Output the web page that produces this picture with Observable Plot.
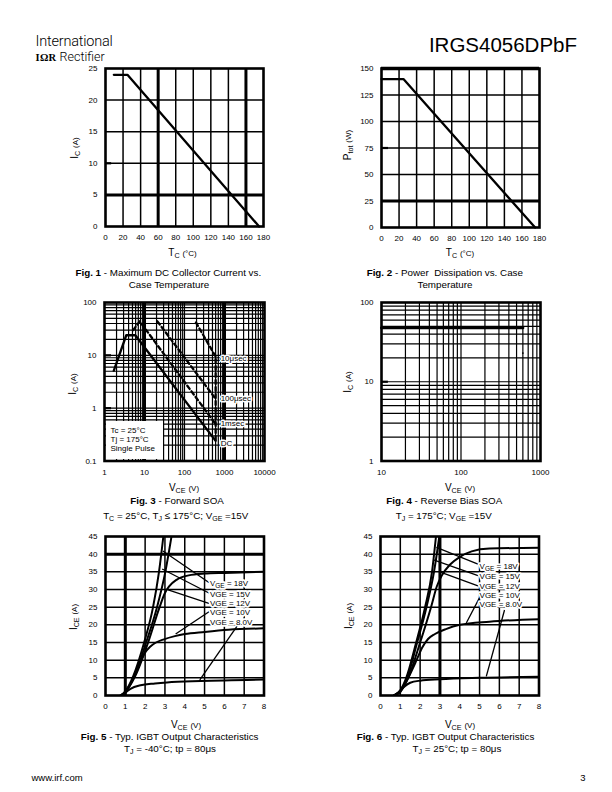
<!DOCTYPE html>
<html><head><meta charset="utf-8">
<script src="https://cdn.jsdelivr.net/npm/d3@7"></script>
<script src="https://cdn.jsdelivr.net/npm/@observablehq/plot@0.6"></script>
<style>
html,body{margin:0;padding:0;background:#fff;}
#page{position:relative;width:612px;height:792px;overflow:hidden;font-family:"Liberation Sans",Arial,Helvetica,sans-serif;color:#000;}
.abs{position:absolute;white-space:nowrap;line-height:1;}
.c{transform:translate(-50%,-50%);}
.l{transform:translateY(-50%);}
.r{transform:translate(-50%,-50%) rotate(-90deg);}
.cap{font-size:9.8px;}
.ax{font-size:10px;}
.u{font-size:8px;}
sub{font-size:72%;vertical-align:-0.3em;line-height:0;}
</style></head><body><div id="page"></div>
<script>
// ---------------- Fig. 1 : Maximum DC collector current vs case temperature
const fig1XTicks = [0,20,40,60,80,100,120,140,160,180];
const fig1YTicks = [0,5,10,15,20,25];
const fig1Tc = [9.5, 25, 175];
const fig1Ic = [24, 24, 0];
const fig1HeavyX = [60, 160];
const fig1HeavyY = [5];
const fig1Stub = {y: 10, x1: 1, x2: 7};

// ---------------- Fig. 2 : Power dissipation vs case temperature
const fig2XTicks = [0,20,40,60,80,100,120,140,160,180];
const fig2YTicks = [0,25,50,75,100,125,150];
const fig2Tc = [0, 25, 175];
const fig2Ptot = [140, 140, 0];
const fig2HeavyY = [25];
const fig2Stub = {y: 75, x1: 1, x2: 8};

// ---------------- Fig. 3 : Forward SOA (log-log)
const fig3XTicks = [1,10,100,1000,10000];
const fig3YTicks = [0.1,1,10,100];
const fig3DC_V = [1.7, 3.5, 5.9, 600];
const fig3DC_I = [5.1, 24, 24, 0.24];
const fig3_1ms_V = [5.2, 7.6, 600];
const fig3_1ms_I = [30, 44, 0.5];
const fig3_100us_V = [21, 600];
const fig3_100us_I = [44, 1.5];
const fig3_10us_V = [193, 600, 600];
const fig3_10us_I = [42, 9.5, 0.24];
const fig3Labels = ["10μsec","100μsec","1msec","DC"];
const fig3LabelV = [600, 600, 600, 600];
const fig3LabelI = [8.9, 1.55, 0.51, 0.215];
const fig3HeavyX = [10, 1000];
const fig3Stubs = [{y: 10, x1: 1.05, x2: 1.5}, {y: 1, x1: 1.05, x2: 1.5}];

// ---------------- Fig. 4 : Reverse bias SOA (log-log)
const fig4XTicks = [10,100,1000];
const fig4YTicks = [1,10,100];
const fig4V = [10, 600];
const fig4I = [48, 48];
const fig4Dot = [[600, 23]];
const fig4Stub = {y: 10, x1: 10.3, x2: 12.2};

// ---------------- Fig. 5 : Output characteristics, Tj = -40 °C
const fig5XTicks = [0,1,2,3,4,5,6,7,8];
const fig5YTicks = [0,5,10,15,20,25,30,35,40,45];
const fig5_18V = [[0.78,0],[1,1.2],[1.4,5.5],[1.95,15],[2.4,25],[2.7,35],[2.92,45]];
const fig5_15V = [[0.78,0],[1,1.1],[1.45,5.5],[2.05,15],[2.6,25],[3.02,35],[3.33,45]];
const fig5_12V = [[0.78,0],[1,1],[1.5,5.5],[2.15,15],[2.7,24.5],[3.0,29],[3.2,30.8],[3.6,32.8],[4.2,34],[5,34.5],[6,34.7],[8,35]];
const fig5_10V = [[0.78,0],[1,0.9],[1.5,6],[1.94,11.7],[2.25,13.8],[2.55,15],[2.95,15.9],[3.5,16.8],[4,17.4],[5,18.0],[6.2,18.6],[8,19.0]];
const fig5_8V = [[0.75,0],[1,0.8],[1.26,1.9],[1.77,2.9],[2.5,3.4],[3.1,3.7],[4.8,4.1],[8,4.5]];
const fig5Labels = ["VGE = 18V","VGE = 15V","VGE = 12V","VGE = 10V","VGE = 8.0V"];
const fig5LabelV = [5.27, 5.27, 5.27, 5.27, 5.27];
const fig5LabelI = [31.8, 28.7, 26.1, 23.5, 20.8];
const fig5PtrFrom = [[2.9,40.9],[2.86,35.8],[3.16,29.9],[3.54,17.4],[4.76,4.4]];
const fig5PtrTo = [[5.22,32],[5.22,29],[5.22,26.1],[5.3,24],[6.65,19.7]];
const fig5HeavyX = [1];
const fig5HeavyY = [40];

// ---------------- Fig. 6 : Output characteristics, Tj = 25 °C
const fig6XTicks = [0,1,2,3,4,5,6,7,8];
const fig6YTicks = [0,5,10,15,20,25,30,35,40,45];
const fig6_18V = [[0.68,0],[1,1.5],[1.3,5],[1.8,15],[2.25,25],[2.6,35],[2.8,45]];
const fig6_15V = [[0.68,0],[1,1.4],[1.35,5],[1.85,15],[2.32,25],[2.7,35],[2.97,45]];
const fig6_12V = [[0.68,0],[1,1.2],[1.4,5],[2.0,15],[2.55,25],[2.85,31],[3.1,34],[3.5,37],[4,39.2],[4.6,40.8],[5.5,41.6],[8,41.8]];
const fig6_10V = [[0.68,0],[1,1],[1.4,5],[1.82,10],[2.1,13.5],[2.4,16],[2.75,17.4],[3.3,18.8],[4,20],[5.5,20.9],[8,21.6]];
const fig6_8V = [[0.68,0],[0.9,0.8],[1.2,2.5],[1.5,3.6],[2,4.2],[3,4.6],[5,5.0],[8,5.3]];
const fig6Labels = ["VGE = 18V","VGE = 15V","VGE = 12V","VGE = 10V","VGE = 8.0V"];
const fig6LabelV = [5.0, 5.0, 5.0, 5.0, 5.0];
const fig6LabelI = [36.5, 33.7, 31.0, 28.4, 25.8];
const fig6PtrFrom = [[2.82,41.9],[2.68,38.4],[2.99,35],[4.33,20.5],[5.34,5.4]];
const fig6PtrTo = [[4.92,37.2],[4.92,33.9],[4.92,31],[5.0,27.7],[6.26,24.2]];
const fig6HeavyX = [3];

// ================= helpers =================
const ML = 30, MR = 10, MT = 10, MB = 20;
const FONT = "'Liberation Sans', Arial, Helvetica, sans-serif";
const page = document.getElementById("page");
const fmt = d => String(d);
const decadeSteps = [1,2,3,4,5,6,7,8,9];

function logGrid(ticks) {
  const out = [];
  for (let k = 0; k < ticks.length - 1; k++) decadeSteps.forEach(m => out.push(ticks[k] * m));
  return out.slice(1);
}
function rowsXY(xs, ys, s) { return xs.map((x, k) => ({x, y: ys[k], s})); }
function rowsPairs(pairs, s) { return pairs.map(p => ({x: p[0], y: p[1], s})); }
function axes(xt, yt) {
  return [
    Plot.axisX(xt, {tickSize: 0, tickPadding: 8, tickFormat: fmt, label: null}),
    Plot.axisY(yt, {tickSize: 0, tickPadding: 8, tickFormat: fmt, label: null})
  ];
}
function mkPlot(o) {
  return Plot.plot({
    width: o.w + ML + MR, height: o.h + MT + MB,
    marginLeft: ML, marginRight: MR, marginTop: MT, marginBottom: MB,
    x: o.x, y: o.y,
    style: {fontFamily: FONT, fontSize: "8px", color: "black", background: "transparent", overflow: "visible"},
    marks: o.marks
  });
}
function mount(svg, fl, ft) {
  const d = document.createElement("div");
  d.className = "abs";
  d.style.left = (fl - ML) + "px";
  d.style.top = (ft - MT) + "px";
  d.appendChild(svg);
  page.appendChild(d);
  return svg;
}
function put(html, x, y, cls, extra) {
  const d = document.createElement("div");
  d.className = "abs " + cls;
  d.style.left = x + "px";
  d.style.top = y + "px";
  d.innerHTML = html;
  if (extra) Object.assign(d.style, extra);
  page.appendChild(d);
  return d;
}
function subscriptLabel(svg, full, base, sub, rest) {
  const NS = "http://www.w3.org/2000/svg";
  svg.querySelectorAll("text").forEach(t => {
    if (t.textContent === full) {
      t.textContent = "";
      const a = document.createElementNS(NS, "tspan"); a.textContent = base;
      const b = document.createElementNS(NS, "tspan"); b.textContent = sub; b.setAttribute("dy", "2"); b.setAttribute("font-size", "6.5");
      const c = document.createElementNS(NS, "tspan"); c.textContent = rest; c.setAttribute("dy", "-2");
      t.append(a, b, c);
    }
  });
}
function stub(s) { return Plot.ruleY([s], {y: "y", x1: "x1", x2: "x2", strokeWidth: 2.2}); }

// ================= Fig 1 =================
mount(mkPlot({
  w: 158, h: 158,
  x: {domain: [0, 180]}, y: {domain: [0, 25]},
  marks: [
    Plot.ruleX(fig1XTicks.slice(1, -1), {strokeWidth: 1.5}),
    Plot.ruleY(fig1YTicks.slice(1, -1), {strokeWidth: 1.5}),
    Plot.ruleX(fig1HeavyX, {strokeWidth: 3}),
    Plot.ruleY(fig1HeavyY, {strokeWidth: 3}),
    stub(fig1Stub),
    Plot.line(rowsXY(fig1Tc, fig1Ic, "Ic"), {x: "x", y: "y", strokeWidth: 2.3}),
    Plot.frame({strokeWidth: 2.6}),
    ...axes(fig1XTicks, fig1YTicks)
  ]
}), 105, 68);

// ================= Fig 2 =================
mount(mkPlot({
  w: 158, h: 159,
  x: {domain: [0, 180]}, y: {domain: [0, 150]},
  marks: [
    Plot.ruleX(fig2XTicks.slice(1, -1), {strokeWidth: 1.5}),
    Plot.ruleY(fig2YTicks.slice(1, -1), {strokeWidth: 1.5}),
    Plot.ruleY(fig2HeavyY, {strokeWidth: 3}),
    stub(fig2Stub),
    Plot.line(rowsXY(fig2Tc, fig2Ptot, "P"), {x: "x", y: "y", strokeWidth: 2.3}),
    Plot.frame({strokeWidth: 2.6}),
    Plot.ruleY([150], {strokeWidth: 3.5}),
    ...axes(fig2XTicks, fig2YTicks)
  ]
}), 381, 68);

// ================= Fig 3 =================
const fig3Solid = rowsXY(fig3DC_V, fig3DC_I, "DC");
const fig3Dashed = [
  ...rowsXY(fig3_1ms_V, fig3_1ms_I, "1msec"),
  ...rowsXY(fig3_100us_V, fig3_100us_I, "100μsec"),
  ...rowsXY(fig3_10us_V, fig3_10us_I, "10μsec")
];
const fig3Lab = fig3Labels.map((t, k) => ({t, x: fig3LabelV[k], y: fig3LabelI[k]}));
mount(mkPlot({
  w: 160, h: 158.5,
  x: {type: "log", domain: [1, 10000]}, y: {type: "log", domain: [0.1, 100]},
  marks: [
    Plot.ruleX(logGrid(fig3XTicks), {strokeWidth: 1.2}),
    Plot.ruleY(logGrid(fig3YTicks), {strokeWidth: 1.2}),
    Plot.ruleX(fig3HeavyX, {strokeWidth: 3}),
    ...fig3Stubs.map(stub),
    Plot.line(fig3Solid, {x: "x", y: "y", strokeWidth: 2.3}),
    Plot.line(fig3Dashed, {x: "x", y: "y", z: "s", strokeWidth: 2.3, strokeDasharray: "4,3"}),
    Plot.text(fig3Lab, {x: "x", y: "y", text: "t", dx: 5, textAnchor: "start", fontSize: 8, fill: "black", stroke: "white", strokeWidth: 3, paintOrder: "stroke"}),
    Plot.frame({strokeWidth: 2.6}),
    ...axes(fig3XTicks, fig3YTicks)
  ]
}), 104, 301.5);
put('Tc = 25°C<br>Tj = 175°C<br>Single Pulse', 105.5, 421, "", {
  width: "52px", height: "33px", background: "#fff", fontSize: "8px", lineHeight: "9px",
  padding: "5px 0 0 5px"
});

// ================= Fig 4 =================
mount(mkPlot({
  w: 159, h: 158.5,
  x: {type: "log", domain: [10, 1000]}, y: {type: "log", domain: [1, 100]},
  marks: [
    Plot.ruleX(logGrid(fig4XTicks), {strokeWidth: 1.2}),
    Plot.ruleY(logGrid(fig4YTicks), {strokeWidth: 1.2}),
    stub(fig4Stub),
    Plot.line(rowsXY(fig4V, fig4I, "RBSOA"), {x: "x", y: "y", strokeWidth: 3}),
    Plot.dot(fig4Dot, {x: d => d[0], y: d => d[1], r: 0.9, fill: "black", stroke: null}),
    Plot.frame({strokeWidth: 2.6}),
    ...axes(fig4XTicks, fig4YTicks)
  ]
}), 381, 301.5);

// ================= Fig 5 / Fig 6 =================
function outputChart(series, labels, lv, li, pFrom, pTo, heavyX, heavyY, xt, yt) {
  const rows = series.flatMap(([pairs, s]) => rowsPairs(pairs, s));
  const ptr = pFrom.map((p, k) => ({x1: p[0], y1: p[1], x2: pTo[k][0], y2: pTo[k][1]}));
  const lab = labels.map((t, k) => ({t, x: lv[k], y: li[k]}));
  const svg = mkPlot({
    w: 158.5, h: 159,
    x: {domain: [0, 8]}, y: {domain: [0, 45]},
    marks: [
      Plot.ruleX(xt.slice(1, -1), {strokeWidth: 1.5}),
      Plot.ruleY(yt.slice(1, -1), {strokeWidth: 1.5}),
      Plot.ruleX(heavyX, {strokeWidth: 3}),
      Plot.ruleY(heavyY, {strokeWidth: 3}),
      Plot.line(rows, {x: "x", y: "y", z: "s", strokeWidth: 2, curve: "monotone-x", clip: true}),
      Plot.link(ptr, {x1: "x1", y1: "y1", x2: "x2", y2: "y2", strokeWidth: 1.3}),
      Plot.text(lab, {x: "x", y: "y", text: "t", textAnchor: "start", fontSize: 8, fill: "black", stroke: "white", strokeWidth: 3.5, paintOrder: "stroke"}),
      Plot.frame({strokeWidth: 2.6}),
      ...axes(xt, yt)
    ]
  });
  subscriptLabel(svg, "VGE = 18V", "V", "GE", " = 18V");
  return svg;
}
mount(outputChart(
  [[fig5_18V, "18V"], [fig5_15V, "15V"], [fig5_12V, "12V"], [fig5_10V, "10V"], [fig5_8V, "8V"]],
  fig5Labels, fig5LabelV, fig5LabelI, fig5PtrFrom, fig5PtrTo, fig5HeavyX, fig5HeavyY, fig5XTicks, fig5YTicks
), 105, 536);
mount(outputChart(
  [[fig6_18V, "18V"], [fig6_15V, "15V"], [fig6_12V, "12V"], [fig6_10V, "10V"], [fig6_8V, "8V"]],
  fig6Labels, fig6LabelV, fig6LabelI, fig6PtrFrom, fig6PtrTo, fig6HeavyX, [], fig6XTicks, fig6YTicks
), 380, 536);

// ================= Texts =================
// header
put('International', 35.5, 42, "l", {fontFamily: "Roboto, 'Liberation Sans', sans-serif", fontWeight: "300", fontSize: "14.5px", letterSpacing: "-0.2px"});
put('<b style="font-family:\'Liberation Serif\',serif;font-size:10.5px;letter-spacing:0.3px">IΩR</b> <span style="font-weight:300">Rectifier</span>', 35.5, 57, "l", {fontFamily: "Roboto, 'Liberation Sans', sans-serif", fontSize: "12.5px"});
put('IRGS4056DPbF', 0, 45, "l", {left: "auto", right: "35px", fontSize: "20.5px"});
// footer
put('www.irf.com', 31.5, 778.3, "l", {fontSize: "9.5px"});
put('3', 583, 778.3, "c", {fontSize: "9.5px"});

// Fig 1 texts
put('I<sub>C</sub> <span class="u">(A)</span>', 74.7, 148, "r ax");
put('T<sub>C</sub> <span class="u">(°C)</span>', 182.5, 252.7, "c ax");
put('<b>Fig. 1</b> - Maximum DC Collector Current vs.', 168.3, 273, "c cap");
put('Case Temperature', 169, 285, "c cap");
// Fig 2 texts
put('P<sub>tot</sub> <span class="u">(W)</span>', 347.7, 145, "r ax");
put('T<sub>C</sub> <span class="u">(°C)</span>', 460, 252.7, "c ax");
put('<b>Fig. 2</b> - Power&nbsp; Dissipation vs. Case', 444.8, 273, "c cap");
put('Temperature', 445, 285, "c cap");
// Fig 3 texts
put('I<sub>C</sub> <span class="u">(A)</span>', 72.5, 384, "r ax");
put('V<sub>CE</sub> <span class="u">(V)</span>', 184, 487.7, "c ax");
put('<b>Fig. 3</b> - Forward SOA', 177, 500.7, "c cap");
put('T<sub>C</sub> = 25°C, T<sub>J</sub> ≤ 175°C; V<sub>GE</sub> =15V', 175.7, 515.7, "c cap");
// Fig 4 texts
put('I<sub>C</sub> <span class="u">(A)</span>', 348, 382, "r ax");
put('V<sub>CE</sub> <span class="u">(V)</span>', 460, 487.7, "c ax");
put('<b>Fig. 4</b> - Reverse Bias SOA', 444.3, 500.7, "c cap");
put('T<sub>J</sub> = 175°C; V<sub>GE</sub> =15V', 443.7, 515.7, "c cap");
// Fig 5 texts
put('I<sub>CE</sub> <span class="u">(A)</span>', 74, 616.5, "r ax");
put('V<sub>CE</sub> <span class="u">(V)</span>', 186, 725, "c ax");
put('<b>Fig. 5</b> - Typ. IGBT Output Characteristics', 169.7, 736.7, "c cap");
put('T<sub>J</sub> = -40°C; tp = 80μs', 170, 749, "c cap");
// Fig 6 texts
put('I<sub>CE</sub> <span class="u">(A)</span>', 349, 616, "r ax");
put('V<sub>CE</sub> <span class="u">(V)</span>', 460, 725, "c ax");
put('<b>Fig. 6</b> - Typ. IGBT Output Characteristics', 445.5, 736.7, "c cap");
put('T<sub>J</sub> = 25°C; tp = 80μs', 457, 749, "c cap");
</script></body></html>
